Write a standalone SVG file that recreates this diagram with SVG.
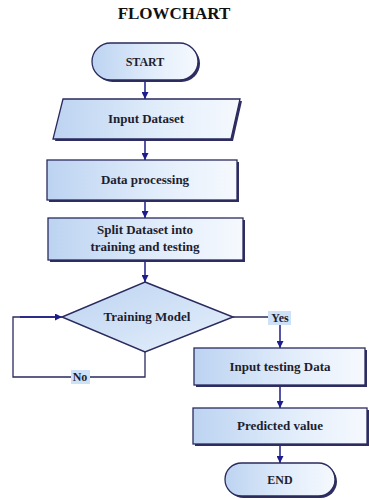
<svg xmlns="http://www.w3.org/2000/svg" width="369" height="500" viewBox="0 0 369 500">
  <defs>
    <linearGradient id="boxFill" x1="0" y1="0" x2="1" y2="0">
      <stop offset="0" stop-color="#bcd3f1"/>
      <stop offset="0.6" stop-color="#e3eefb"/>
      <stop offset="1" stop-color="#f6f9fe"/>
    </linearGradient>
    <linearGradient id="diamondFill" x1="0" y1="0" x2="1" y2="1">
      <stop offset="0" stop-color="#bcd3f1"/>
      <stop offset="1" stop-color="#e6f0fb"/>
    </linearGradient>
    <marker id="arrow" viewBox="0 0 10 10" refX="10" refY="5" markerWidth="7" markerHeight="7" markerUnits="userSpaceOnUse" orient="auto">
      <path d="M0,0 L10,5 L0,10 z" fill="#1c1c8a"/>
    </marker>
    <style>
      .shape { fill: url(#boxFill); stroke: #2a2a5e; stroke-width: 1.3; }
      .diamond { fill: url(#diamondFill); stroke: #2a2a5e; stroke-width: 1.5; }
      .shadow { fill: #2e2e62; }
      .label { font-family: "Liberation Serif", "Times New Roman", serif; font-weight: bold; font-size: 13px; fill: #1e1e2e; text-anchor: middle; }
      .title { font-family: "Liberation Serif", "Times New Roman", serif; font-weight: bold; font-size: 17px; fill: #111; text-anchor: middle; }
      .flow { fill: none; stroke: #2a2a5e; stroke-width: 1.3; }
      .arrowline { fill: none; stroke: #1c1c8a; stroke-width: 1.5; marker-end: url(#arrow); }
      .tag { fill: #cfe1f6; }
    </style>
  </defs>

  <rect width="369" height="500" fill="#ffffff"/>

  <text class="title" x="174" y="19">FLOWCHART</text>

  <!-- connectors -->
  <g id="connectors">
    <line class="arrowline" x1="145" y1="80" x2="145" y2="99"/>
    <line class="arrowline" x1="145" y1="140" x2="145" y2="160"/>
    <line class="arrowline" x1="145" y1="201" x2="145" y2="218"/>
    <line class="arrowline" x1="145" y1="261" x2="145" y2="282"/>
    <!-- no branch loops back into the decision -->
    <polyline class="flow" points="145,352 145,377 13,377 13,317 56,317"/>
    <line class="arrowline" x1="20" y1="317" x2="62" y2="317"/>
    <rect class="tag" x="71" y="370" width="19" height="14"/>
    <text class="label" x="80" y="381" style="font-size:12px">No</text>
    <!-- yes branch -->
    <polyline class="flow" points="233,317 270,317"/>
    <line class="arrowline" x1="280" y1="324" x2="280" y2="348"/>
    <rect class="tag" x="268" y="311" width="23" height="14"/>
    <text class="label" x="280" y="322" style="font-size:12px">Yes</text>
    <line class="arrowline" x1="280" y1="386" x2="280" y2="408"/>
    <line class="arrowline" x1="280" y1="445" x2="280" y2="463"/>
  </g>

  <g id="start">
    <rect class="shadow" x="94" y="45" width="106" height="37" rx="18.5"/>
    <rect class="shape" x="92" y="43" width="106" height="37" rx="18.5"/>
    <text class="label" x="145" y="66" style="font-size:12px">START</text>
  </g>

  <g id="input-dataset">
    <polygon class="shadow" points="65,101 242,101 233,141 55,141"/>
    <polygon class="shape" points="63,99 240,99 231,139 53,139"/>
    <text class="label" x="146" y="123">Input Dataset</text>
  </g>

  <g id="data-processing">
    <rect class="shadow" x="49" y="162" width="190" height="40"/>
    <rect class="shape" x="47" y="160" width="190" height="40"/>
    <text class="label" x="145" y="184">Data processing</text>
  </g>

  <g id="split-dataset">
    <rect class="shadow" x="50" y="220" width="195" height="42"/>
    <rect class="shape" x="48" y="218" width="195" height="42"/>
    <text class="label" x="145" y="234">Split Dataset into</text>
    <text class="label" x="145" y="251">training and testing</text>
  </g>

  <g id="training-model">
    <polygon class="diamond" points="145,282 233,317 145,352 62,317"/>
    <text class="label" x="147" y="321">Training Model</text>
  </g>

  <g id="input-testing-data">
    <rect class="shadow" x="196" y="350" width="171" height="37"/>
    <rect class="shape" x="194" y="348" width="171" height="37"/>
    <text class="label" x="280" y="371">Input testing Data</text>
  </g>

  <g id="predicted-value">
    <rect class="shadow" x="195" y="410" width="174" height="36"/>
    <rect class="shape" x="193" y="408" width="174" height="36"/>
    <text class="label" x="280" y="430">Predicted value</text>
  </g>

  <g id="end">
    <rect class="shadow" x="227" y="465" width="110" height="33" rx="16.5"/>
    <rect class="shape" x="225" y="463" width="110" height="33" rx="16.5"/>
    <text class="label" x="280" y="484" style="font-size:12px">END</text>
  </g>
</svg>
